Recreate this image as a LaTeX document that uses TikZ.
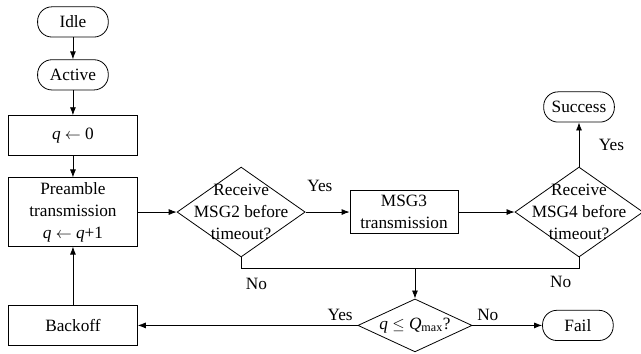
\documentclass[tikz,border=0pt]{standalone}
\usepackage{fontspec}
\setmainfont{Liberation Serif}
\usetikzlibrary{positioning, shapes.geometric, arrows.meta}

\begin{document}
\begin{tikzpicture}[>={Latex[length=6pt,width=4.5pt]}, line width=0.6pt,
    font=\fontsize{13}{16.5}\selectfont,
    terminal/.style={draw, rounded corners=0.38cm, minimum width=1.87cm, minimum height=0.8cm},
    process/.style={draw, align=center, minimum width=3.41cm, minimum height=1.06cm},
    decision/.style={draw, diamond, inner sep=0pt, minimum width=3.39cm, minimum height=2.38cm}]
      \useasboundingbox (-1.93,0.58) rectangle (15.03,-8.76);

      % Left column
      \node[terminal] (idle) {Idle};
      \node[terminal, below of=idle, node distance=1.4cm] (active) {Active};
      \node[process, below of=active, node distance=1.61cm] (init) {\textit{q} $\leftarrow$ 0};
      \node[process, below of=init, node distance=2.02cm, minimum height=1.72cm] (pre) {
        Preamble\\transmission\\\textit{q} $\leftarrow$ \textit{q}+1
      };
      \node[process, below of=pre, node distance=3cm] (backoff) {Backoff};

      % Decisions and messages
      \node[decision, right of=pre, node distance=4.45cm,
        label={[align=center]center:Receive\\MSG2 before\\timeout?}] (msg2) {};
      \node[process, right of=msg2, node distance=4.31cm, minimum width=2.86cm] (msg3) {
        MSG3\\transmission
      };
      \node[decision, right of=msg3, node distance=4.63cm,
        label={[align=center]center:Receive\\MSG4 before\\timeout?}] (msg4) {};
      \node[terminal, above of=msg4, node distance=2.78cm] (success) {Success};

      \node[decision, right of=backoff, node distance=9.05cm, minimum width=3.02cm, minimum height=1.4cm,
        label={center:\textit{q} $\leq$ \textit{Q}\textsubscript{max}?}] (check) {};
      \node[terminal, right of=check, node distance=4.31cm] (fail) {Fail};

      % Transitions
      \draw[->] (idle) -- (active);
      \draw[->] (active) -- (init);
      \draw[->] (init) -- (pre);
      \draw[->] (pre) -- (msg2);
      \draw[->] (msg2) -- node[pos=0, anchor=south west, yshift=0.48cm, inner sep=1pt] {Yes} (msg3);
      \draw[->] (msg3) -- (msg4);
      \draw[->] (msg4) -- node[right, xshift=0.4cm] {Yes} (success);

      \draw (msg2.south) -- ++(0,-0.29) coordinate (nojoin)
        node[below right, yshift=-0.12cm] {No}
        -| node[pos=0.5, below left, xshift=-0.08cm, yshift=-0.08cm] {No} (msg4.south);
      \draw[->] (check.north |- nojoin) -- (check);

      \draw[->] (check) -- node[pos=0, above left] {Yes} (backoff);
      \draw[->] (check) -- node[pos=0, above right] {No} (fail);
      \draw[->] (backoff) -- (pre);

    \end{tikzpicture}
\end{document}
